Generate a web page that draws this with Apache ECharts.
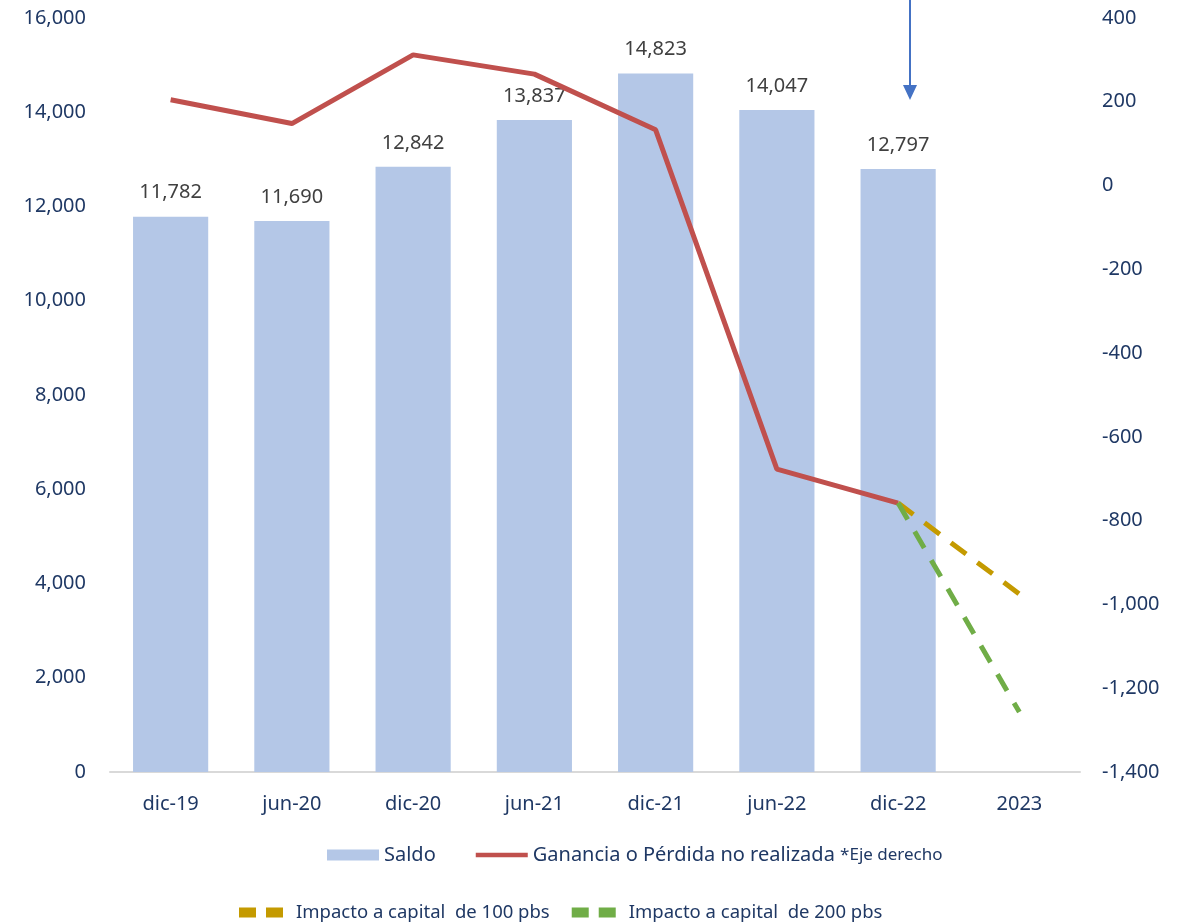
<!DOCTYPE html>
<html>
<head>
<meta charset="utf-8">
<script src="https://cdn.jsdelivr.net/npm/echarts@6/dist/echarts.min.js"></script>
<style>
  html, body { margin: 0; padding: 0; background: #fff; }
  #chart { width: 1194px; height: 923px; }
</style>
</head>
<body>
<div id="chart"></div>
<script>
// categories and values
const categories = ['dic-19', 'jun-20', 'dic-20', 'jun-21', 'dic-21', 'jun-22', 'dic-22', '2023'];
const saldo = [11782, 11690, 12842, 13837, 14823, 14047, 12797, null];
const ganancia = [205, 148, 312, 266, 133, -677, -758, null];
const impacto100 = [null, null, null, null, null, null, -758, -975];
const impacto200 = [null, null, null, null, null, null, -758, -1257];

const navy = '#1F3864';
const font = '"Noto Sans", sans-serif';
const fmt = v => Number(v).toLocaleString('en-US');
const dashIcon = 'path://M0,0h17v10h-17z M27,0h17v10h-17z';

let chart = echarts.init(document.getElementById('chart'));
chart.setOption({
    backgroundColor: '#fff',
    textStyle: { fontFamily: font },
    grid: { left: 110, right: 114, top: 18, bottom: 151 },
    legend: [
        {
            left: 322, top: 840,
            itemWidth: 52, itemHeight: 11, itemGap: 40,
            textStyle: {
                color: navy, fontSize: 20, fontFamily: font,
                rich: { s: { color: navy, fontSize: 17, fontFamily: font } }
            },
            formatter: n => n === 'Ganancia o Pérdida no realizada' ? n + ' {s|*Eje derecho}' : n,
            data: [
                { name: 'Saldo', icon: 'rect' },
                { name: 'Ganancia o Pérdida no realizada', icon: 'path://M0,3h56v5h-56z M0,0h0.01v11h-0.01z', itemStyle: { color: '#C0504D' } }
            ]
        },
        {
            left: 234, top: 898,
            itemWidth: 44, itemHeight: 10, itemGap: 22,
            textStyle: { color: navy, fontSize: 18.5, fontFamily: font, padding: [0, 0, 0, 8] },
            data: [
                { name: 'Impacto a capital  de 100 pbs', icon: dashIcon },
                { name: 'Impacto a capital  de 200 pbs', icon: dashIcon }
            ]
        }
    ],
    xAxis: {
        type: 'category',
        data: categories,
        axisLine: { lineStyle: { color: '#D9D9D9', width: 2 } },
        axisTick: { show: false },
        axisLabel: { color: navy, fontSize: 20, margin: 22 }
    },
    yAxis: [
        {
            type: 'value', min: 0, max: 16000, interval: 2000,
            splitLine: { show: false },
            axisLine: { show: false }, axisTick: { show: false },
            axisLabel: { color: navy, fontSize: 20, margin: 24, formatter: fmt }
        },
        {
            type: 'value', min: -1400, max: 400, interval: 200,
            splitLine: { show: false },
            axisLine: { show: false }, axisTick: { show: false },
            axisLabel: { color: navy, fontSize: 20, margin: 22, formatter: fmt }
        }
    ],
    series: [
        {
            name: 'Saldo', type: 'bar', data: saldo,
            barWidth: '62%',
            itemStyle: { color: '#B4C7E7' },
            label: {
                show: true, position: 'top', distance: 14,
                color: '#404040', fontSize: 20, fontFamily: font,
                formatter: p => fmt(p.value)
            }
        },
        {
            name: 'Ganancia o Pérdida no realizada', type: 'line', yAxisIndex: 1,
            data: ganancia, symbol: 'none',
            lineStyle: { color: '#C0504D', width: 5 },
            itemStyle: { color: '#C0504D' }
        },
        {
            name: 'Impacto a capital  de 100 pbs', type: 'line', yAxisIndex: 1,
            data: impacto100, symbol: 'none',
            lineStyle: { color: '#C49A00', width: 5, type: [19, 14] },
            itemStyle: { color: '#C49A00' }
        },
        {
            name: 'Impacto a capital  de 200 pbs', type: 'line', yAxisIndex: 1,
            data: impacto200, symbol: 'none',
            lineStyle: { color: '#70AD47', width: 5, type: [19, 14] },
            itemStyle: { color: '#70AD47' }
        }
    ],
    graphic: [
        { type: 'line', shape: { x1: 910, y1: 0, x2: 910, y2: 86 }, style: { stroke: '#4472C4', lineWidth: 2 } },
        { type: 'polygon', shape: { points: [[903, 85], [917, 85], [910, 100]] }, style: { fill: '#4472C4' } }
    ]
});
</script>
</body>
</html>
